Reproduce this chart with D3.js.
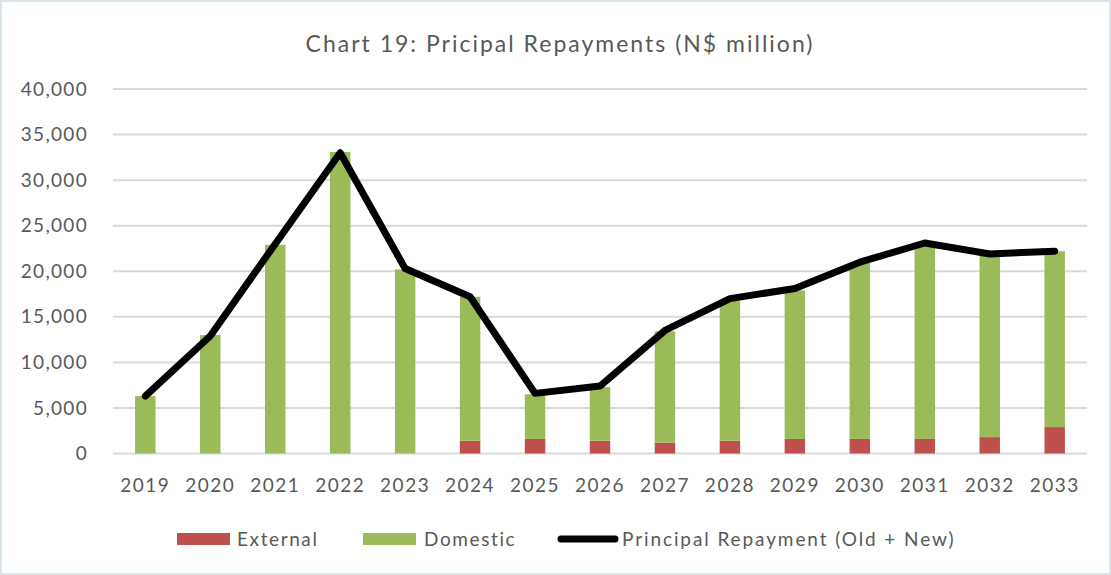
<!DOCTYPE html>
<html>
<head>
<meta charset="utf-8">
<script src="https://cdn.jsdelivr.net/npm/d3@7"></script>
<style>
  body { margin: 0; background: #fff; }
  text { font-family: Lato, "Open Sans", sans-serif; fill: #595959; }
</style>
</head>
<body>
<svg width="1111" height="575"></svg>
<script>
var years = ["2019","2020","2021","2022","2023","2024","2025","2026","2027","2028","2029","2030","2031","2032","2033"];
var external = [0, 0, 0, 0, 0, 1400, 1600, 1400, 1200, 1400, 1600, 1600, 1600, 1800, 2900];
var domestic = [6300, 13000, 22900, 33100, 20200, 15800, 4900, 5900, 12200, 15400, 16300, 19300, 21100, 19900, 19300];
var repayment = [6300, 12900, 23000, 33000, 20300, 17200, 6600, 7400, 13500, 17000, 18100, 21000, 23100, 21900, 22200];
var yTicks = [0, 5000, 10000, 15000, 20000, 25000, 30000, 35000, 40000];

var svg = d3.select("svg"),
    width = +svg.attr("width"),
    height = +svg.attr("height");

// frame
svg.append("rect")
    .attr("x", 0.5).attr("y", 0.5)
    .attr("width", width - 1).attr("height", height - 1)
    .attr("fill", "#fff")
    .attr("stroke", "#d9e6ec")
    .attr("stroke-width", 3);

var margin = {left: 113, right: 24, top: 89, bottom: 121};

var x = d3.scaleBand()
    .domain(years)
    .range([margin.left, width - margin.right])
    .paddingInner(0.685)
    .paddingOuter(0.34);

var y = d3.scaleLinear()
    .domain([0, 40000])
    .range([height - margin.bottom - 0.5, margin.top]);

// grid
svg.append("g")
    .selectAll("line")
    .data(yTicks)
    .enter().append("line")
    .attr("x1", margin.left)
    .attr("x2", width - margin.right)
    .attr("y1", function(d) { return y(d); })
    .attr("y2", function(d) { return y(d); })
    .attr("stroke", "#d9d9d9")
    .attr("stroke-width", 2);

// y axis labels
var yAxis = d3.axisLeft(y)
    .tickValues(yTicks)
    .tickSize(0)
    .tickPadding(25)
    .tickFormat(d3.format(","));
var gy = svg.append("g")
    .attr("transform", "translate(" + margin.left + ",0)")
    .call(yAxis);
gy.select(".domain").remove();
gy.selectAll("text").style("font-size", "19px").style("letter-spacing", "1.3px").attr("fill", "#595959");

// x axis labels
var xAxis = d3.axisBottom(x).tickSize(0).tickPadding(25);
var gx = svg.append("g")
    .attr("transform", "translate(0," + y(0) + ")")
    .call(xAxis);
gx.select(".domain").remove();
gx.selectAll("text").style("font-size", "19px").style("letter-spacing", "1.5px").attr("fill", "#595959");

// stacked bars
var rows = years.map(function(yr, i) {
  return {year: yr, external: external[i], domestic: domestic[i]};
});
var stack = d3.stack().keys(["external", "domestic"]);
var colors = {external: "#c0504d", domestic: "#9bbb59"};

svg.append("g")
    .selectAll("g")
    .data(stack(rows))
    .enter().append("g")
    .attr("fill", function(d) { return colors[d.key]; })
    .selectAll("rect")
    .data(function(d) { return d; })
    .enter().append("rect")
    .attr("x", function(d) { return x(d.data.year); })
    .attr("width", x.bandwidth())
    .attr("y", function(d) { return y(d[1]); })
    .attr("height", function(d) { return y(d[0]) - y(d[1]); });

// line
var line = d3.line()
    .x(function(d, i) { return x(years[i]) + x.bandwidth() / 2; })
    .y(function(d) { return y(d); });

svg.append("path")
    .datum(repayment)
    .attr("fill", "none")
    .attr("stroke", "#000")
    .attr("stroke-width", 7)
    .attr("stroke-linejoin", "round")
    .attr("stroke-linecap", "round")
    .attr("d", line);

// title
svg.append("text")
    .attr("x", 560)
    .attr("y", 52)
    .attr("text-anchor", "middle")
    .style("font-size", "23px")
    .style("letter-spacing", "2px")
    .text("Chart 19: Pricipal Repayments (N$ million)");

// legend
var legend = svg.append("g").attr("transform", "translate(0,539)");
legend.append("rect").attr("x", 177).attr("y", -6).attr("width", 53).attr("height", 12).attr("fill", colors.external);
legend.append("text").attr("x", 237).attr("y", 7).style("font-size", "19px").style("letter-spacing", "1.6px").text("External");
legend.append("rect").attr("x", 363).attr("y", -6).attr("width", 53).attr("height", 12).attr("fill", colors.domestic);
legend.append("text").attr("x", 424).attr("y", 7).style("font-size", "19px").style("letter-spacing", "1.6px").text("Domestic");
legend.append("line").attr("x1", 561).attr("x2", 615).attr("y1", 0).attr("y2", 0)
    .attr("stroke", "#000").attr("stroke-width", 7).attr("stroke-linecap", "round");
legend.append("text").attr("x", 622).attr("y", 7).style("font-size", "19px").style("letter-spacing", "1.9px").text("Principal Repayment (Old + New)");
</script>
</body>
</html>
